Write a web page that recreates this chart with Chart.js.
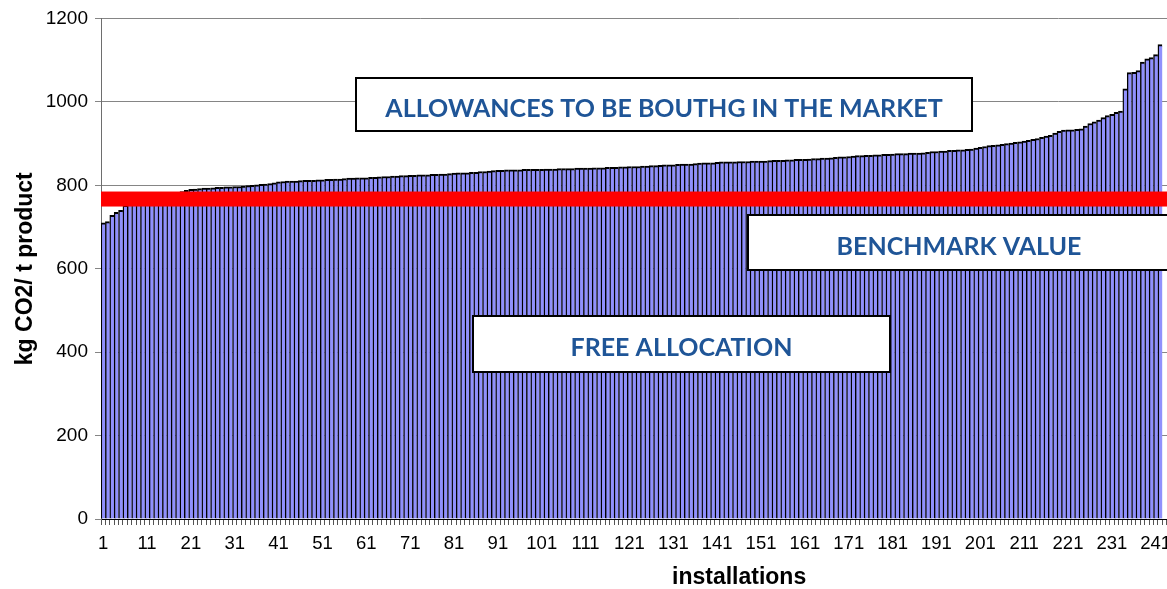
<!DOCTYPE html>
<html>
<head>
<meta charset="utf-8">
<title>Benchmark curve</title>
<script src="https://cdn.jsdelivr.net/npm/chart.js@4.4.0/dist/chart.umd.min.js"></script>
<style>
  html, body { margin: 0; padding: 0; background: #fff; overflow: hidden; width: 1167px; height: 589px; }
  /* the original chart runs on past the right edge of the picture */
  #wrap { position: relative; width: 1383px; height: 589px; }
</style>
</head>
<body>
<div id="wrap"><canvas id="benchChart"></canvas></div>
<script>
// kg CO2 per t product, installations sorted from lowest to highest
const emissions = [
  710, 713, 728, 735, 740, 752, 756, 760, 763, 766,
  769, 771, 773, 775, 777, 779, 781, 783, 785, 788,
  790, 791, 792, 793, 793, 794, 795, 795, 796, 796,
  797, 797, 798, 799, 800, 801, 802, 803, 804, 806,
  808, 809, 810, 810, 810, 811, 812, 812, 812, 813,
  813, 814, 814, 815, 815, 816, 817, 817, 818, 818,
  818, 819, 819, 820, 821, 821, 822, 822, 823, 823,
  824, 824, 825, 825, 825, 826, 826, 827, 827, 828,
  829, 830, 830, 830, 831, 831, 833, 833, 834, 835,
  836, 836, 837, 837, 837, 837, 838, 838, 838, 838,
  838, 839, 839, 839, 840, 840, 840, 840, 841, 841,
  841, 841, 842, 842, 842, 843, 843, 843, 844, 844,
  845, 845, 845, 846, 846, 847, 847, 848, 849, 849,
  849, 850, 851, 851, 851, 852, 853, 854, 854, 854,
  855, 856, 856, 856, 856, 857, 857, 857, 858, 858,
  858, 858, 859, 860, 860, 860, 861, 861, 862, 862,
  862, 863, 864, 864, 865, 865, 866, 867, 868, 868,
  869, 870, 871, 871, 872, 872, 873, 873, 874, 874,
  875, 876, 876, 876, 877, 877, 877, 878, 879, 881,
  881, 882, 882, 884, 884, 885, 885, 886, 887, 889,
  891, 893, 895, 896, 897, 898, 900, 901, 903, 904,
  906, 908, 910, 912, 915, 918, 920, 925, 929, 932,
  933, 933, 934, 935, 942, 948, 952, 956, 962, 967,
  970, 975, 978, 1031, 1070, 1071, 1075, 1095, 1103, 1106,
  1113, 1137
];

// the axis holds more installations than fit in the picture
const installationCount = 291;
const installations = Array.from({ length: installationCount }, (_, i) => String(i + 1));
const tickLabels = ['1', '11', '21', '31', '41', '51', '61', '71', '81', '91', '101', '111', '121',
  '131', '141', '151', '161', '171', '181', '191', '201', '211', '221', '231', '241',
  '251', '261', '271', '281'];

const benchmark = 767;

// text boxes, placed in axis units (category index, kg CO2/t)
const notes = [
  { text: 'ALLOWANCES TO BE BOUTHG IN THE MARKET', x0: 57.7, x1: 198.1, y0: 1056, y1: 929 },
  { text: 'BENCHMARK VALUE', x0: 147.0, x1: 243.2, y0: 728, y1: 596 },
  { text: 'FREE ALLOCATION', x0: 84.3, x1: 179.3, y0: 486, y1: 352 }
];

const overlay = {
  id: 'overlay',
  afterDatasetsDraw(chart) {
    const { ctx, chartArea, scales: { x, y } } = chart;
    ctx.save();
    // benchmark line
    const by = y.getPixelForValue(benchmark);
    ctx.fillStyle = '#ff0000';
    ctx.fillRect(chartArea.left, by - 7.5, chartArea.right - chartArea.left, 15);

    ctx.font = 'bold 25px Lato';
    ctx.textAlign = 'center';
    ctx.textBaseline = 'middle';
    notes.forEach(n => {
      const l = Math.round(x.getPixelForValue(n.x0));
      const r = Math.round(x.getPixelForValue(n.x1));
      const t = Math.round(y.getPixelForValue(n.y0));
      const b = Math.round(y.getPixelForValue(n.y1));
      ctx.fillStyle = '#ffffff';
      ctx.fillRect(l, t, r - l, b - t);
      ctx.strokeStyle = '#000000';
      ctx.lineWidth = 2;
      ctx.strokeRect(l, t, r - l, b - t);
      ctx.fillStyle = '#1f5597';
      ctx.fillText(n.text, (l + r) / 2, (t + b) / 2 + 4);
    });
    ctx.restore();
  }
};

new Chart(document.getElementById('benchChart').getContext('2d'), {
  type: 'bar',
  data: {
    labels: installations,
    datasets: [{
      data: emissions,
      backgroundColor: '#9090fc',
      borderColor: '#000000',
      borderWidth: { top: 2, left: 1.4, right: 0, bottom: 0 },
      borderSkipped: false,
      barPercentage: 1,
      categoryPercentage: 1
    }]
  },
  options: {
    responsive: true,
    maintainAspectRatio: false,
    animation: false,
    devicePixelRatio: 1,
    layout: { padding: { left: 0, right: 1, top: 18, bottom: 0 } },
    plugins: {
      legend: { display: false },
      tooltip: { enabled: false }
    },
    scales: {
      x: {
        ticks: {
          autoSkip: false,
          maxRotation: 0,
          minRotation: 0,
          padding: 8,
          color: '#000',
          font: { family: 'Liberation Sans', size: 18.5 },
          callback(v) {
            const lab = this.getLabelForValue(v);
            return tickLabels.includes(lab) ? lab : '';
          }
        },
        grid: { drawOnChartArea: false, tickLength: 6, color: '#555555', offset: true },
        border: { color: '#000000' },
        title: {
          display: true,
          text: 'installations',
          color: '#000',
          font: { family: 'Liberation Sans', size: 23, weight: 'bold', lineHeight: 1 },
          padding: { top: 0, bottom: 0 }
        },
        afterFit(s) { s.height = 70; }
      },
      y: {
        min: 0,
        max: 1200,
        ticks: {
          stepSize: 200,
          padding: 7,
          color: '#000',
          font: { family: 'Liberation Sans', size: 19 },
          callback: v => String(v)
        },
        grid: { color: '#858585', tickLength: 6 },
        border: { color: '#6e6e6e' },
        title: {
          display: true,
          text: 'kg CO2/ t product',
          color: '#000',
          font: { family: 'Liberation Sans', size: 23, weight: 'bold', lineHeight: 1 },
          padding: { top: 14, bottom: 0 }
        },
        afterFit(s) { s.width = 101; }
      }
    }
  },
  plugins: [overlay]
});
</script>
</body>
</html>
